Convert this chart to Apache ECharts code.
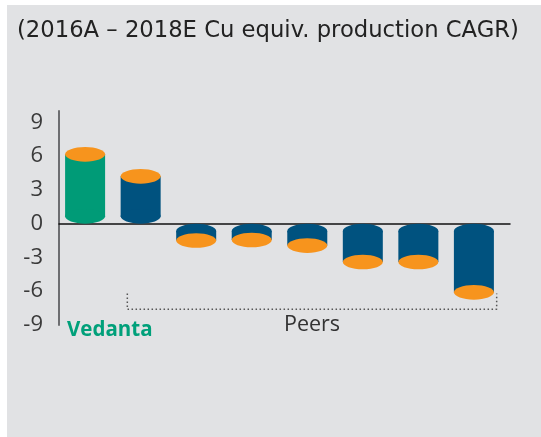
<!DOCTYPE html>
<html>
<head>
<meta charset="utf-8">
<script src="https://cdn.jsdelivr.net/npm/echarts@6/dist/echarts.min.js"></script>
<style>
html,body{margin:0;padding:0;background:#fff;}
#c{width:541px;height:437px;}
</style>
</head>
<body>
<div id="c"></div>
<script>
const titleText = '(2016A \u2013 2018E Cu equiv. production CAGR)';
const categories = ['Vedanta', 'Peer 1', 'Peer 2', 'Peer 3', 'Peer 4', 'Peer 5', 'Peer 6', 'Peer 7'];
const cagr = [6.15, 4.2, -1.5, -1.45, -1.95, -3.4, -3.4, -6.1];
const yTicks = [-9, -6, -3, 0, 3, 6, 9];
const peersBracket = [[0.76, -6.2], [0.76, -7.6], [7.41, -7.6], [7.41, -6.2]];

const GREEN = '#009b77', BLUE = '#00527f', ORANGE = '#f7941d', BG = '#e1e2e4';
const FONT = '"Open Sans", sans-serif';
const TFONT = '"DejaVu Sans", sans-serif';

const chart = echarts.init(document.getElementById('c'), null, {renderer: 'canvas'});
const data = cagr.map((v, i) => [i, v, categories[i]]);

chart.setOption({
  backgroundColor: '#ffffff',
  animation: false,
  title: {
    text: titleText, left: 17, top: 20, padding: 0,
    textStyle: {fontFamily: TFONT, fontSize: 22.7, fontWeight: 'normal', color: '#222'}
  },
  graphic: [
    {type: 'rect', z: -10, silent: true, shape: {x: 7, y: 5, width: 534, height: 432}, style: {fill: BG}},
    {type: 'text', left: 67, top: 320, style: {text: 'Vedanta', fill: '#00a07a', font: 'bold 20.5px ' + FONT}},
    {type: 'text', left: 284, top: 314, style: {text: 'Peers', fill: '#333', font: '21.5px ' + FONT}}
  ],
  grid: {left: 59, right: 31, top: 111, bottom: 112},
  xAxis: {
    type: 'value', min: -0.47, max: 7.65,
    axisLine: {show: true, onZero: true, lineStyle: {color: '#111', width: 1.5}},
    axisTick: {show: false}, axisLabel: {show: false}, splitLine: {show: false}
  },
  yAxis: {
    type: 'value', min: -9, max: 10, interval: 3,
    axisLine: {show: true, onZero: false, lineStyle: {color: '#6d6e71', width: 2}},
    axisTick: {show: false}, splitLine: {show: false},
    axisLabel: {
      margin: 16, fontSize: 22, color: '#3a3a3a', fontFamily: FONT,
      formatter: v => yTicks.indexOf(v) >= 0 ? String(v) : ''
    }
  },
  series: [
    {
      type: 'custom',
      data: data,
      renderItem: function (params, api) {
        const i = api.value(0), v = api.value(1);
        const c = api.coord([i, v]);
        const z = api.coord([i, 0]);
        const rx = 20, ry = 7.3;
        const body = params.dataIndex === 0 ? GREEN : BLUE;
        const ch = [];
        if (v >= 0) {
          ch.push({type: 'rect', shape: {x: c[0] - rx, y: c[1], width: 2 * rx, height: (z[1] - ry) - c[1]}, style: {fill: body}});
          ch.push({type: 'ellipse', shape: {cx: c[0], cy: z[1] - ry, rx: rx, ry: ry}, style: {fill: body}});
          ch.push({type: 'ellipse', shape: {cx: c[0], cy: c[1], rx: rx, ry: ry}, style: {fill: ORANGE}});
        } else {
          ch.push({type: 'ellipse', shape: {cx: c[0], cy: z[1] + ry, rx: rx, ry: ry}, style: {fill: body}});
          ch.push({type: 'rect', shape: {x: c[0] - rx, y: z[1] + ry, width: 2 * rx, height: c[1] - (z[1] + ry)}, style: {fill: body}});
          ch.push({type: 'ellipse', shape: {cx: c[0], cy: c[1], rx: rx, ry: ry}, style: {fill: ORANGE}});
        }
        return {type: 'group', children: ch};
      }
    },
    {
      type: 'line',
      data: peersBracket,
      symbol: 'none',
      silent: true,
      lineStyle: {color: '#555', width: 1.5, type: [1.5, 2.5]}
    }
  ]
});
</script>
</body>
</html>
